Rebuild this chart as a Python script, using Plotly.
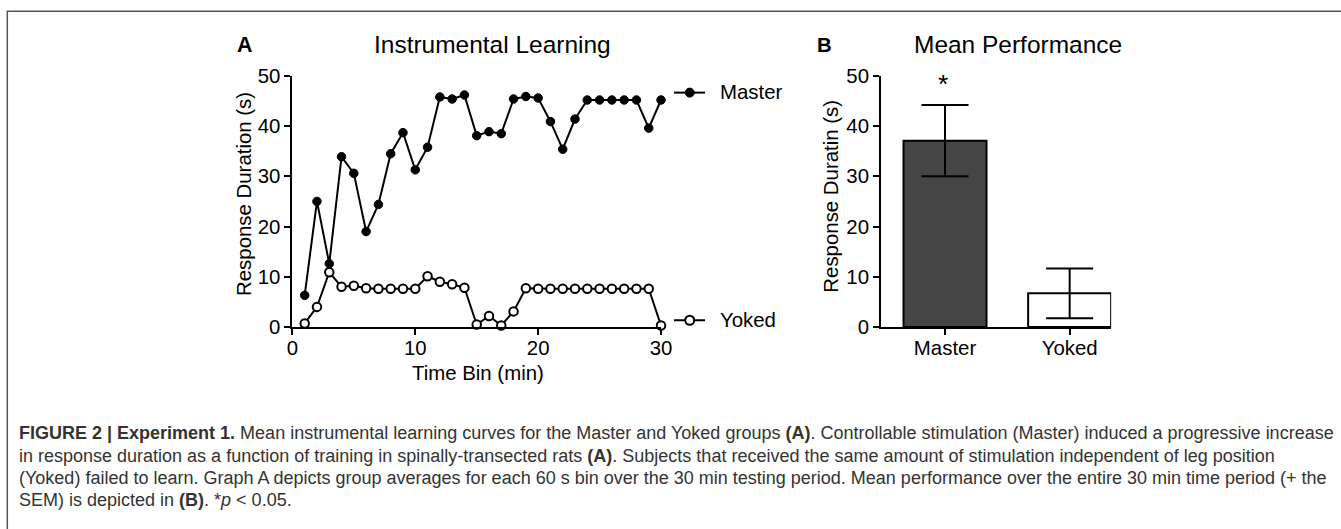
import plotly.graph_objects as go

W, H = 1341, 529

# ---------------- data ----------------
time_bins = list(range(1, 31))
master = [6.3, 25.0, 12.6, 33.9, 30.6, 19.0, 24.4, 34.5, 38.7, 31.3,
          35.8, 45.8, 45.4, 46.2, 38.1, 38.9, 38.5, 45.4, 45.9, 45.6,
          40.9, 35.4, 41.4, 45.2, 45.2, 45.2, 45.2, 45.2, 39.6, 45.2]
yoked = [0.7, 4.0, 10.9, 8.0, 8.2, 7.7, 7.6, 7.6, 7.6, 7.6,
         10.1, 9.0, 8.5, 7.8, 0.5, 2.2, 0.3, 3.1, 7.7, 7.6,
         7.6, 7.6, 7.6, 7.6, 7.6, 7.6, 7.6, 7.6, 7.6, 0.3]
x_ticks = [0, 10, 20, 30]
y_ticks = [0, 10, 20, 30, 40, 50]

groups = ["Master", "Yoked"]
group_means = [37.1, 6.7]
group_sem = [7.1, 4.95]

# layout helpers: target pixel positions (in the photographed picture)
# converted to paper fractions, compensating the capture's slight inset/scale
SX, DX = 0.987, 8.2
SY, DY = 0.957, 11.2


def px(x):
    return ((x - DX) / SX) / W


def py(y):
    return 1 - ((y - DY) / SY) / H


FONT = "Liberation Sans, Arial, Helvetica, sans-serif"
FS = 1.02  # font compensation

fig = go.Figure()

fig.add_trace(go.Scatter(
    x=time_bins, y=master, mode="lines+markers", name="Master",
    line=dict(color="black", width=2),
    marker=dict(symbol="circle", size=8.5, color="black",
                line=dict(color="black", width=1)),
    cliponaxis=False, xaxis="x", yaxis="y", showlegend=False))

fig.add_trace(go.Scatter(
    x=time_bins, y=yoked, mode="lines+markers", name="Yoked",
    line=dict(color="black", width=2),
    marker=dict(symbol="circle", size=8.5, color="white",
                line=dict(color="black", width=2)),
    cliponaxis=False, xaxis="x", yaxis="y", showlegend=False))

fig.add_trace(go.Bar(
    x=groups, y=group_means, width=0.666,
    marker=dict(color=["#454545", "white"], line=dict(color="black", width=2)),
    error_y=dict(type="data", array=group_sem, color="black",
                 thickness=2, width=23.5),
    xaxis="x2", yaxis="y2", showlegend=False))

axis_common = dict(showline=True, linecolor="black", linewidth=2,
                   ticks="outside", ticklen=6, tickwidth=2, tickcolor="black",
                   showgrid=False, zeroline=False,
                   tickfont=dict(family=FONT, size=20 * FS, color="black"))

ydom = [py(326.7), py(76)]

fig.update_layout(
    width=W, height=H, autosize=False,
    margin=dict(l=0, r=0, t=0, b=0),
    paper_bgcolor="white", plot_bgcolor="white",
    font=dict(family=FONT, color="black"),
    xaxis=dict(domain=[px(294.5), px(663)], range=[0, 30], tickvals=x_ticks,
               anchor="y", ticklabelstandoff=-4, **axis_common),
    yaxis=dict(domain=ydom, range=[0, 50], tickvals=y_ticks,
               anchor="x", **axis_common),
    xaxis2=dict(domain=[px(883), px(1113)], range=[-0.513, 1.333],
                type="category", anchor="y2", ticklabelstandoff=-4,
                **axis_common),
    yaxis2=dict(domain=ydom, range=[0, 50], tickvals=y_ticks,
                anchor="x2", **axis_common),
)

ann = []


def text(x, y, s, size, bold=False, xanchor="center", yanchor="middle",
         angle=0, color="black", fs=FS):
    ann.append(dict(x=px(x), y=py(y), xref="paper", yref="paper",
                    text=f"<b>{s}</b>" if bold else s, showarrow=False,
                    xanchor=xanchor, yanchor=yanchor, textangle=angle,
                    font=dict(family=FONT, size=size * fs, color=color)))


text(246.5, 45, "A", 21, bold=True)
text(495, 45, "Instrumental Learning", 24)
text(826.5, 45, "B", 20, bold=True)
text(1020, 45, "Mean Performance", 24)
text(246, 194, "Response Duration (s)", 20, angle=-90)
text(833.5, 196, "Response Duratin (s)", 20, angle=-90)
text(480, 373, "Time Bin (min)", 20)
text(720, 92, "Master", 20, xanchor="left")
text(720, 320, "Yoked", 20, xanchor="left")
text(945, 84.3, "*", 26)

cap_lines = [
    "<b>FIGURE 2 | Experiment 1.</b> Mean instrumental learning curves for the Master and Yoked groups <b>(A)</b>. Controllable stimulation (Master) induced a progressive increase",
    "in response duration as a function of training in spinally-transected rats <b>(A)</b>. Subjects that received the same amount of stimulation independent of leg position",
    "(Yoked) failed to learn. Graph A depicts group averages for each 60 s bin over the 30 min testing period. Mean performance over the entire 30 min time period (+ the",
    "SEM) is depicted in <b>(B)</b>. *<i>p</i> &lt; 0.05.",
]
for i, line in enumerate(cap_lines):
    text(19, 433.0 + i * 22.3, line, 18.0, xanchor="left", color="#333333", fs=1.0)

fig.update_layout(annotations=ann)

frame_y = max(py(11.5), 1 - 1.0 / H)
frame_x = max(px(9.5), 1.0 / W)
shapes = [
    # figure frame (open to the right and bottom, as cropped)
    dict(type="rect", xref="paper", yref="paper",
         x0=frame_x, x1=1.2, y0=frame_y, y1=-0.2,
         line=dict(color="#555555", width=1.5), fillcolor="rgba(0,0,0,0)"),
    # legend symbols
    dict(type="line", xref="paper", yref="paper",
         x0=px(676), x1=px(707), y0=py(92.7), y1=py(92.7),
         line=dict(color="black", width=2)),
    dict(type="circle", xref="paper", yref="paper",
         x0=px(691.7 - 4.5), x1=px(691.7 + 4.5), y0=py(92.7 + 4.5), y1=py(92.7 - 4.5),
         fillcolor="black", line=dict(color="black", width=1)),
    dict(type="line", xref="paper", yref="paper",
         x0=px(676), x1=px(707), y0=py(320), y1=py(320),
         line=dict(color="black", width=2)),
    dict(type="circle", xref="paper", yref="paper",
         x0=px(691.7 - 4.5), x1=px(691.7 + 4.5), y0=py(320 + 4.5), y1=py(320 - 4.5),
         fillcolor="white", line=dict(color="black", width=2)),
]
fig.update_layout(shapes=shapes)

fig.write_html("out.html", config={"displayModeBar": False},
               post_script="document.body.style.margin='0';document.body.style.overflow='hidden';")
